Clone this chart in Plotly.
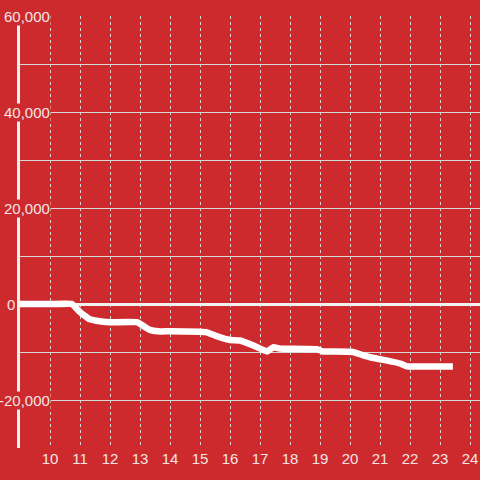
import plotly.graph_objects as go

# Data (hour of day, value)
hours = [9.0, 10.0, 10.73, 11.0, 11.33, 11.77, 12.0, 12.9, 13.33, 13.6, 14.0, 15.0, 15.23, 15.6, 16.0,
         16.33, 16.8, 17.23, 17.45, 17.67, 18.0, 18.9, 19.1, 19.5, 20.1, 20.4, 20.67, 21.0, 21.4,
         21.67, 21.9, 22.5, 23.43]
values = [0, 0, 0, -1700, -3200, -3700, -3800, -3800, -5400, -5700, -5700, -5800, -5900, -6800, -7500,
          -7600, -8700, -9900, -9000, -9300, -9300, -9400, -9900, -9900, -10000, -10600, -11100, -11500, -12000,
          -12400, -13000, -13000, -13000]

x_ticks = list(range(10, 25))
y_grid = [-20000, -10000, 0, 10000, 20000, 30000, 40000, 50000, 60000]
y_label_vals = [-20000, 0, 20000, 40000, 60000]
y_label_text = ["-20,000", "0", "20,000", "40,000", "60,000"]

BG = "#cd2a2e"
TXT = "#f3e4e4"
GRID = "#d8d8d8"

fig = go.Figure()
fig.add_trace(go.Scatter(x=hours, y=values, mode="lines",
                         line=dict(color="white", width=6.5, shape="spline", smoothing=0.3),
                         hoverinfo="skip"))

fig.update_layout(
    width=480, height=480,
    margin=dict(l=20, r=0, t=16, b=32),
    paper_bgcolor=BG, plot_bgcolor=BG,
    showlegend=False,
    font=dict(family="Liberation Sans, Arial, sans-serif", size=15, color=TXT),
    xaxis=dict(range=[9, 24.3333], tickvals=x_ticks, ticktext=[str(v) for v in x_ticks],
               showgrid=True, gridcolor=GRID, gridwidth=1, griddash="dot",
               showline=False, zeroline=False, ticks="", tickfont=dict(size=15, color=TXT)),
    yaxis=dict(range=[-30000, 60000], tickvals=y_grid, showticklabels=False,
               showgrid=True, gridcolor=GRID, gridwidth=1,
               showline=True, linecolor="#f2f2f2", linewidth=3,
               zeroline=True, zerolinecolor="#f2f2f2", zerolinewidth=3, ticks=""),
)

for v, t in zip(y_label_vals, y_label_text):
    xr = 51 if v != 0 else 16
    fig.add_annotation(x=(xr - 20) / 460, xref="paper", y=v, yref="y", text=t,
                       showarrow=False, xanchor="right", yanchor="middle",
                       bgcolor=BG if v != 0 else "rgba(0,0,0,0)", borderpad=0,
                       font=dict(size=15, color=TXT))

fig.write_html("out.html", config={"displayModeBar": False},
               post_script="document.body.style.margin='0';document.body.style.background='%s';" % BG)
